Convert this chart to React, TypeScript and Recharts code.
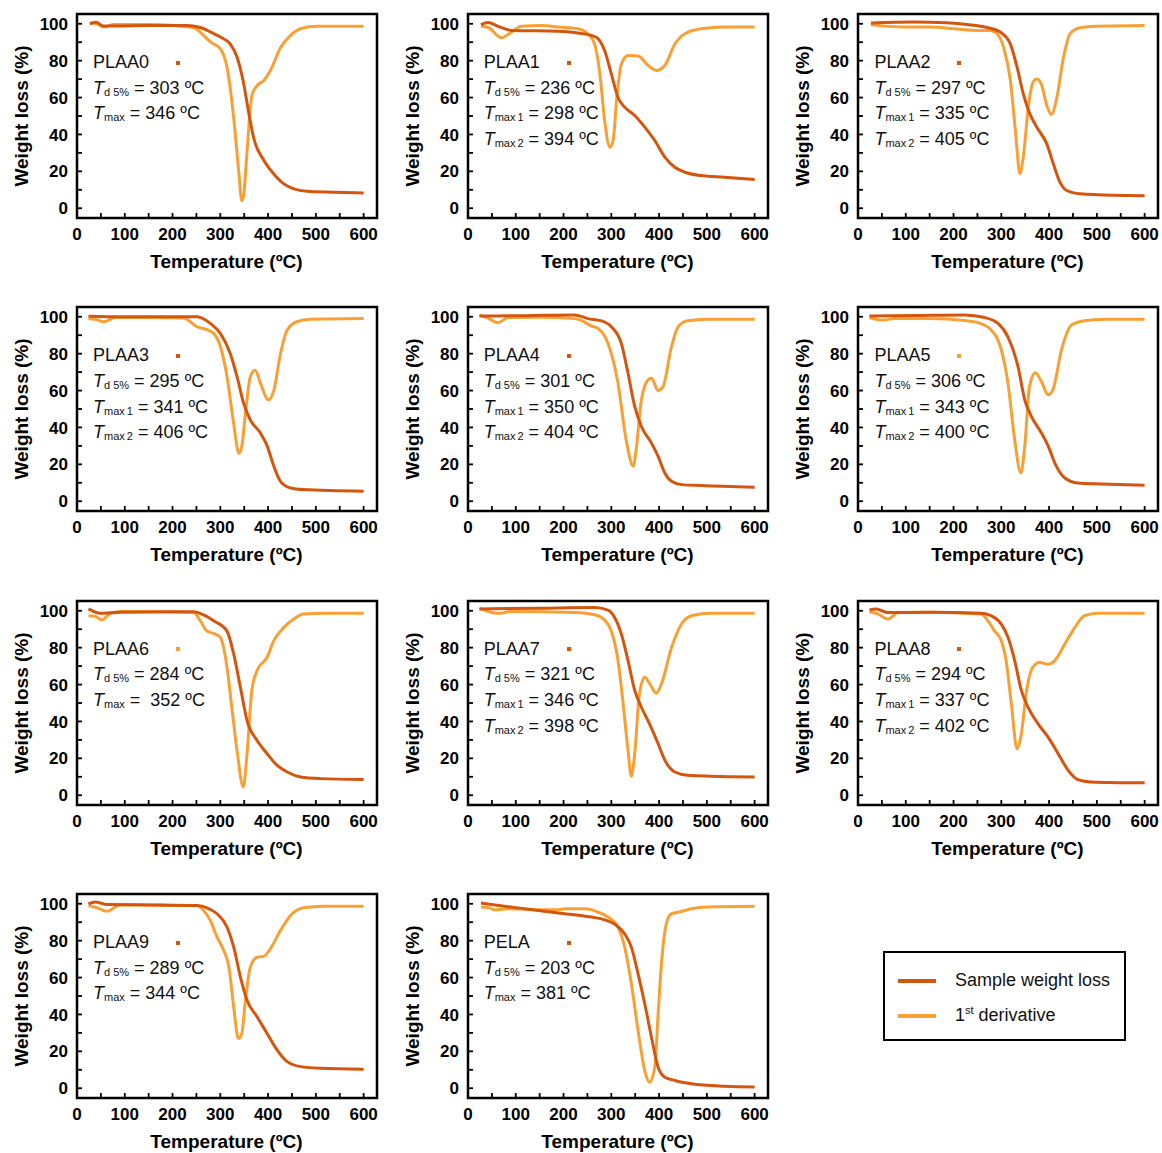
import React from 'react';
import { LineChart, Line, XAxis, YAxis, ReferenceArea } from 'recharts';

type Pt = [number, number];

// temperature (ºC) vs. weight (%) and scaled 1st derivative
const PLAA0_W: Pt[] = [[27, 100], [40, 100.8], [55, 98.8], [80, 98.8], [150, 99], [230, 99], [258, 98], [280, 95.5], [300, 92.8], [321, 89], [335, 82], [349, 67.5], [360, 51], [370, 38], [391, 26], [412, 18.6], [433, 13.2], [454, 10.5], [481, 9.2], [537, 8.7], [600, 8.3]];
const PLAA0_D: Pt[] = [[27, 100.4], [42, 100], [56, 98.2], [77, 99.6], [150, 99.6], [203, 99], [245, 97.8], [265, 93.7], [280, 90], [300, 86.4], [314, 76.5], [328, 49], [339, 18.6], [345, 4], [349, 7], [356, 31], [366, 61], [377, 66.5], [391, 69.3], [405, 74.7], [426, 87], [447, 93.7], [468, 97.3], [502, 98.6], [600, 98.6]];

const PLAA1_W: Pt[] = [[27, 99.6], [42, 100.7], [63, 98.6], [91, 96.4], [189, 96], [230, 95], [258, 93.7], [272, 92], [286, 85.5], [300, 72.9], [314, 60], [328, 54.8], [349, 50.3], [370, 44], [391, 36.7], [412, 27.7], [433, 22.2], [454, 19.5], [488, 17.7], [537, 16.8], [600, 15.6]];
const PLAA1_D: Pt[] = [[27, 98.6], [42, 98], [70, 92.4], [91, 95.5], [112, 98.6], [154, 99], [189, 98.2], [230, 97.3], [251, 94.6], [265, 89], [276, 72.9], [286, 47.6], [297, 33], [304, 37], [311, 58.6], [321, 78], [335, 82.8], [356, 82.5], [377, 77.4], [394, 74.7], [412, 77.4], [433, 89], [454, 94.6], [488, 97.3], [537, 98.2], [600, 98.2]];

const PLAA2_W: Pt[] = [[27, 100.4], [116, 101], [186, 100.5], [228, 99.6], [270, 98], [298, 95.5], [319, 89], [333, 76.5], [346, 62], [360, 51], [374, 44], [395, 35], [409, 24], [423, 14], [437, 9.6], [465, 7.8], [534, 7], [600, 6.8]];
const PLAA2_D: Pt[] = [[27, 99.6], [47, 99], [102, 98.2], [151, 98.2], [200, 97.3], [256, 96.4], [277, 96.4], [291, 94.6], [305, 87], [319, 69.3], [330, 40.5], [339, 18.8], [346, 27.7], [357, 55.9], [367, 68.6], [374, 70], [384, 67], [395, 56], [405, 50.8], [416, 59.7], [430, 81.5], [444, 94.6], [465, 97.8], [500, 98.6], [600, 99]];

const PLAA3_W: Pt[] = [[24, 100.3], [100, 100], [251, 100], [279, 96.4], [300, 91], [321, 80], [335, 67.6], [349, 53], [363, 44], [384, 37], [398, 30], [412, 19], [426, 10.8], [447, 7.2], [474, 6.3], [600, 5.4]];
const PLAA3_D: Pt[] = [[24, 99], [40, 98.5], [56, 97.3], [80, 99.6], [150, 99.6], [223, 99.4], [251, 94.6], [272, 93], [286, 91], [300, 84], [314, 67.6], [328, 42], [339, 26], [345, 29.7], [352, 46], [363, 67.6], [373, 71], [384, 64], [401, 55], [412, 60], [426, 80], [440, 92.8], [460, 97.3], [488, 98.6], [600, 99]];

const PLAA4_W: Pt[] = [[24, 100.4], [120, 100.6], [223, 101], [251, 99], [279, 97.8], [300, 94.6], [321, 85.6], [335, 69.4], [349, 51.4], [363, 40.5], [384, 31.5], [398, 24.3], [412, 15.3], [426, 10.8], [447, 9], [488, 8.5], [600, 7.6]];
const PLAA4_D: Pt[] = [[24, 100.9], [40, 99.5], [63, 96.8], [84, 99.6], [150, 99.8], [223, 99], [237, 98], [258, 95], [272, 93.7], [293, 85.6], [314, 64], [331, 33.3], [346, 19], [352, 28], [363, 55], [377, 65.8], [384, 66.7], [398, 60], [408, 62], [426, 83.8], [440, 94.6], [460, 97.8], [502, 98.6], [600, 98.7]];

const PLAA5_W: Pt[] = [[24, 100.4], [120, 100.7], [223, 101], [265, 99.6], [293, 96.4], [314, 89], [335, 73], [349, 55], [363, 46], [384, 37], [398, 30], [412, 20.7], [433, 12.6], [460, 9.9], [509, 9.4], [600, 8.6]];
const PLAA5_D: Pt[] = [[24, 99.5], [52, 98.2], [77, 99], [150, 99], [223, 98], [251, 96.8], [279, 92.8], [300, 82], [314, 64], [328, 33.3], [341, 15.3], [349, 29.7], [359, 62], [371, 69.7], [384, 64.9], [398, 57.7], [408, 60.4], [426, 82], [447, 95.5], [474, 97.8], [516, 98.6], [600, 98.7]];

const PLAA6_W: Pt[] = [[24, 101], [49, 98.6], [91, 99.2], [244, 99.5], [265, 97.8], [286, 94.6], [314, 89], [328, 76.6], [342, 58.6], [356, 40.5], [377, 29.7], [398, 22.5], [419, 16.2], [440, 12.6], [468, 9.9], [509, 9], [600, 8.5]];
const PLAA6_D: Pt[] = [[24, 97.3], [38, 97], [52, 95], [70, 98.6], [91, 99.6], [244, 99], [258, 94.6], [272, 89], [286, 87.7], [300, 85.6], [314, 69.4], [324, 47.7], [335, 24.3], [348, 4.5], [356, 22.5], [366, 56.8], [377, 67.6], [398, 74.8], [412, 83.8], [433, 91], [454, 95.5], [474, 98.2], [516, 98.7], [600, 98.7]];

const PLAA7_W: Pt[] = [[24, 101], [150, 101.4], [265, 101.8], [293, 100.4], [307, 96.4], [321, 87.4], [335, 73], [349, 56.8], [363, 47.7], [380, 38.7], [398, 27.9], [412, 19], [433, 12.6], [460, 10.8], [509, 10.3], [600, 9.9]];
const PLAA7_D: Pt[] = [[24, 101.4], [42, 99.6], [63, 98.6], [91, 99.6], [223, 99], [265, 97.8], [286, 95], [300, 89], [314, 73], [324, 51.4], [335, 24.3], [342, 10.3], [349, 22.5], [359, 55], [370, 64], [380, 60.7], [394, 55.3], [405, 60.4], [426, 80], [447, 92.8], [468, 97.3], [509, 98.6], [600, 98.6]];

const PLAA8_W: Pt[] = [[24, 100.4], [38, 101], [63, 99], [150, 99.2], [258, 98.7], [279, 97.3], [300, 92.8], [314, 85.6], [328, 73], [342, 56.8], [356, 47.7], [377, 38.7], [398, 31.5], [419, 22.5], [440, 13.5], [460, 8.5], [488, 7.2], [600, 6.7]];
const PLAA8_D: Pt[] = [[24, 99.5], [40, 98.5], [63, 95.5], [84, 99], [150, 99.2], [258, 98.2], [272, 94.6], [286, 89], [300, 83.8], [310, 73], [321, 49.5], [333, 25.2], [342, 33.3], [352, 55], [366, 69.4], [380, 72], [398, 71], [412, 73], [433, 82], [454, 91], [474, 97.3], [502, 98.6], [600, 98.7]];

const PLAA9_W: Pt[] = [[24, 100], [38, 101], [63, 99.6], [150, 99.4], [251, 99], [272, 97.8], [293, 94.6], [314, 87.4], [328, 76.6], [342, 60.4], [356, 47.7], [377, 38.7], [398, 29.7], [419, 20.7], [440, 14.4], [468, 11.7], [509, 10.8], [600, 10.3]];
const PLAA9_D: Pt[] = [[24, 99], [40, 98], [63, 96], [91, 99.4], [150, 99.3], [251, 99], [265, 96.4], [279, 91], [293, 82], [307, 74.8], [318, 65.8], [328, 44], [338, 27], [345, 29.7], [352, 46], [363, 65.8], [377, 71], [391, 71.5], [405, 75.7], [426, 85.6], [447, 93.7], [474, 97.8], [516, 98.7], [600, 98.7]];

const PELA_W: Pt[] = [[27, 100.4], [49, 99.6], [119, 97.3], [189, 95], [258, 92.8], [286, 91.3], [307, 89], [328, 83.7], [342, 76.5], [356, 62], [370, 45.8], [384, 27.7], [398, 11.4], [412, 6], [433, 4.2], [468, 2.4], [537, 1.1], [600, 0.7]];
const PELA_D: Pt[] = [[27, 98.2], [42, 98], [56, 96.7], [84, 97.3], [154, 96.7], [189, 96.7], [203, 97.3], [245, 97.3], [272, 95.5], [293, 92.8], [314, 87.3], [328, 76.5], [342, 56.6], [356, 31.3], [370, 9.6], [380, 3.3], [391, 11.4], [398, 40.3], [405, 67.5], [415, 89], [426, 94.6], [447, 95.8], [468, 97.3], [502, 98.2], [600, 98.6]];

// [subscript, value] for each annotation line
const PLAA0_NOTES = [['d 5%', '303'], ['max', '346']];
const PLAA1_NOTES = [['d 5%', '236'], ['max1', '298'], ['max2', '394']];
const PLAA2_NOTES = [['d 5%', '297'], ['max1', '335'], ['max2', '405']];
const PLAA3_NOTES = [['d 5%', '295'], ['max1', '341'], ['max2', '406']];
const PLAA4_NOTES = [['d 5%', '301'], ['max1', '350'], ['max2', '404']];
const PLAA5_NOTES = [['d 5%', '306'], ['max1', '343'], ['max2', '400']];
const PLAA6_NOTES = [['d 5%', '284'], ['max', ' 352']];
const PLAA7_NOTES = [['d 5%', '321'], ['max1', '346'], ['max2', '398']];
const PLAA8_NOTES = [['d 5%', '294'], ['max1', '337'], ['max2', '402']];
const PLAA9_NOTES = [['d 5%', '289'], ['max', '344']];
const PELA_NOTES = [['d 5%', '203'], ['max', '381']];

const X_TICKS = [0, 50, 100, 150, 200, 250, 300, 350, 400, 450, 500, 550, 600];
const Y_TICKS = [0, 10, 20, 30, 40, 50, 60, 70, 80, 90, 100];
const X_DOMAIN: [number, number] = [0, 628];
const Y_DOMAIN: [number, number] = [-5.3, 105.3];

const DARK = '#D4560E';
const LIGHT = '#F9A034';
const FONT = "'Liberation Sans', Arial, sans-serif";

const PANELS = [
  { name: 'PLAA0', w: PLAA0_W, d: PLAA0_D, notes: PLAA0_NOTES, mark: DARK },
  { name: 'PLAA1', w: PLAA1_W, d: PLAA1_D, notes: PLAA1_NOTES, mark: DARK },
  { name: 'PLAA2', w: PLAA2_W, d: PLAA2_D, notes: PLAA2_NOTES, mark: DARK },
  { name: 'PLAA3', w: PLAA3_W, d: PLAA3_D, notes: PLAA3_NOTES, mark: DARK },
  { name: 'PLAA4', w: PLAA4_W, d: PLAA4_D, notes: PLAA4_NOTES, mark: DARK },
  { name: 'PLAA5', w: PLAA5_W, d: PLAA5_D, notes: PLAA5_NOTES, mark: LIGHT },
  { name: 'PLAA6', w: PLAA6_W, d: PLAA6_D, notes: PLAA6_NOTES, mark: LIGHT },
  { name: 'PLAA7', w: PLAA7_W, d: PLAA7_D, notes: PLAA7_NOTES, mark: DARK },
  { name: 'PLAA8', w: PLAA8_W, d: PLAA8_D, notes: PLAA8_NOTES, mark: DARK },
  { name: 'PLAA9', w: PLAA9_W, d: PLAA9_D, notes: PLAA9_NOTES, mark: DARK },
  { name: 'PELA', w: PELA_W, d: PELA_D, notes: PELA_NOTES, mark: DARK },
];

const toRows = (pts: Pt[]) => pts.map(([t, v]) => ({ t, v }));

function XTick(props: any) {
  const { x, y, payload } = props;
  const major = payload.value % 100 === 0;
  return (
    <g>
      <line x1={x} x2={x} y1={y} y2={y - 5} stroke="#000" strokeWidth={1.8} />
      {major && (
        <text x={x} y={y + 22} textAnchor="middle" fontFamily={FONT} fontWeight="bold" fontSize={17} fill="#000">
          {payload.value}
        </text>
      )}
    </g>
  );
}

function YTick(props: any) {
  const { x, y, payload } = props;
  const major = payload.value % 20 === 0;
  return (
    <g>
      <line x1={x} x2={x + 5} y1={y} y2={y} stroke="#000" strokeWidth={1.8} />
      {major && (
        <text x={x - 9} y={y} dy="0.36em" textAnchor="end" fontFamily={FONT} fontWeight="bold" fontSize={17} fill="#000">
          {payload.value}
        </text>
      )}
    </g>
  );
}

const XTitle = () => (
  <text x={226.5} y={268} textAnchor="middle" fontFamily={FONT} fontWeight="bold" fontSize={19} fill="#000">
    Temperature (ºC)
  </text>
);

const YTitle = () => (
  <text x={21.5} y={116} dy="0.35em" transform="rotate(-90 21.5 116)" textAnchor="middle" fontFamily={FONT} fontWeight="bold" fontSize={19} fill="#000">
    Weight loss (%)
  </text>
);

const ROW_H = 25.6;

function Panel({ p, col, row }: { p: typeof PANELS[number]; col: number; row: number }) {
  return (
    <div style={{ position: 'absolute', left: col * 390.7, top: row * 293.4, width: 390, height: 293 }}>
      <LineChart width={390} height={293} margin={{ top: 14, right: 13, left: 0, bottom: 0 }}>
        <XAxis
          dataKey="t" type="number" domain={X_DOMAIN} allowDataOverflow ticks={X_TICKS} interval={0}
          height={75} tickSize={0} tickMargin={0} tickLine={false} axisLine={false}
          tick={<XTick />} label={<XTitle />}
        />
        <YAxis
          type="number" domain={Y_DOMAIN} allowDataOverflow ticks={Y_TICKS} interval={0}
          width={77} tickSize={0} tickMargin={0} tickLine={false} axisLine={false}
          tick={<YTick />} label={<YTitle />}
        />
        <Line data={toRows(p.d)} dataKey="v" type="monotone" stroke={LIGHT} strokeWidth={3} dot={false} isAnimationActive={false} />
        <Line data={toRows(p.w)} dataKey="v" type="monotone" stroke={DARK} strokeWidth={3} dot={false} isAnimationActive={false} />
        <ReferenceArea x1={X_DOMAIN[0]} x2={X_DOMAIN[1]} y1={Y_DOMAIN[0]} y2={Y_DOMAIN[1]} fill="none" fillOpacity={0} stroke="#000" strokeWidth={2.5} ifOverflow="visible" />
      </LineChart>
      <div style={{ position: 'absolute', left: 93, top: 50, fontFamily: FONT, fontSize: 18, color: '#111', whiteSpace: 'pre' }}>
        <div style={{ height: ROW_H, lineHeight: `${ROW_H}px` }}>{p.name}</div>
        {p.notes.map(([sub, val]) => (
          <div key={sub} style={{ height: ROW_H, lineHeight: `${ROW_H}px` }}>
            <i>T</i>
            <span style={{ fontSize: 11, lineHeight: 1, position: 'relative', top: 2 }}>
              {sub.startsWith('max') && sub.length > 3 ? <>max<span style={{ marginLeft: 2 }}>{sub.slice(3)}</span></> : sub}
            </span>
            {` = ${val} ºC`}
          </div>
        ))}
      </div>
      <div style={{ position: 'absolute', left: 176, top: 60.5, width: 4, height: 4, background: p.mark }} />
    </div>
  );
}

export default function App() {
  return (
    <div style={{ position: 'absolute', left: 0, top: 0, width: 1162, height: 1153, background: '#fff' }}>
      {PANELS.map((p, i) => (
        <Panel key={p.name} p={p} col={i % 3} row={Math.floor(i / 3)} />
      ))}
      <div style={{ position: 'absolute', left: 883, top: 951, width: 243, height: 90, boxSizing: 'border-box', border: '2px solid #000', fontFamily: FONT, fontSize: 18, color: '#111' }}>
        <div style={{ position: 'absolute', left: 13, top: 26, width: 38, height: 4, background: DARK }} />
        <div style={{ position: 'absolute', left: 70, top: 16, lineHeight: '22px', whiteSpace: 'nowrap' }}>Sample weight loss</div>
        <div style={{ position: 'absolute', left: 13, top: 61, width: 38, height: 4, background: LIGHT }} />
        <div style={{ position: 'absolute', left: 70, top: 51, lineHeight: '22px', whiteSpace: 'nowrap' }}>
          1<sup style={{ fontSize: 11, verticalAlign: 'baseline', position: 'relative', top: -7 }}>st</sup> derivative
        </div>
      </div>
    </div>
  );
}
